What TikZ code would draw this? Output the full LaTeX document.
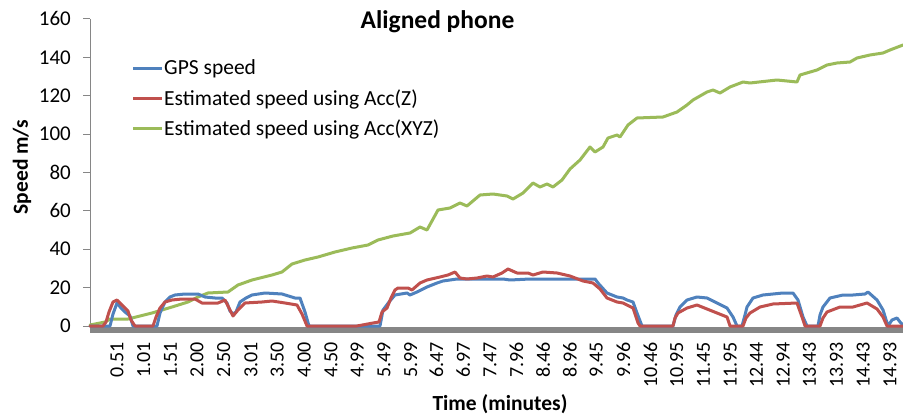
\documentclass[tikz,border=0pt]{standalone}
\usepackage{fontspec}
\setmainfont{Carlito}
\definecolor{gpsblue}{HTML}{4F81BD}
\definecolor{accred}{HTML}{C0504D}
\definecolor{accgreen}{HTML}{9BBB59}
\definecolor{axisgray}{HTML}{868686}
\tikzset{
  curve/.style={line width=3pt, line join=round, line cap=round},
  ytick/.style={anchor=east, inner sep=0pt, font=\fontsize{21}{24}\selectfont},
  xtick/.style={rotate=90, anchor=east, inner sep=0pt, font=\fontsize{20}{24}\selectfont},
  legtext/.style={anchor=west, inner sep=0pt, font=\fontsize{21.5}{25}\selectfont},
  axtitle/.style={inner sep=0pt, font=\fontsize{21.5}{25}\selectfont\bfseries},
}
\begin{document}
\begin{tikzpicture}[x=1pt,y=-1pt]
\useasboundingbox (0,0) rectangle (903,417);
\fill[white] (0,0) rectangle (903,417);
% axis
\fill[axisgray] (90,326.5) rectangle (903,332.5);
\draw[axisgray, line width=1pt] (90,19) -- (90,332.5);
\foreach \v [count=\i] in {0,20,40,60,80,100,120,140,160} {
  \draw[axisgray, line width=1pt] (83,{326-1.919*\v}) -- (90,{326-1.919*\v});
  \node[ytick] (yt\i) at (71,{326-1.919*\v}) {\v};
}
\foreach \t [count=\i] in {0.51,1.01,1.51,2.00,2.50,3.01,3.50,4.00,4.50,4.99,5.49,5.99,6.47,6.97,7.47,7.96,8.46,8.96,9.45,9.96,10.46,10.95,11.45,11.95,12.44,12.94,13.43,13.93,14.43,14.93} {
  \node[xtick] (xt\i) at ({89.7+53.6*\t},342) {\t};
}
% green
\draw[curve, accgreen] (90,325) -- (105,322) -- (110,319) -- (128,319) -- (140,316) -- (152,313) -- (172,307) -- (188,302) -- (198,297) -- (208,293) -- (228,292) -- (238,285) -- (252,280) -- (272,275) -- (282,272) -- (292,264) -- (305,260) -- (318,257) -- (335,252) -- (352,248) -- (368,245) -- (378,240) -- (393,236) -- (410,233) -- (420,227) -- (427,230) -- (438,210) -- (450,208) -- (460,203) -- (467,206) -- (480,195) -- (493,194) -- (507,196) -- (513,199) -- (523,193) -- (533,183) -- (540,187) -- (547,184) -- (553,187) -- (562,180) -- (570,169) -- (580,160) -- (590,147) -- (595,152) -- (603,147) -- (608,138) -- (617,135) -- (620,137) -- (628,125) -- (637,118) -- (663,117) -- (677,112) -- (687,105) -- (693,100) -- (707,92) -- (713,90) -- (720,93) -- (730,87) -- (743,82) -- (750,83) -- (777,80) -- (797,82) -- (800,75) -- (817,70) -- (827,65) -- (837,63) -- (850,62) -- (857,58) -- (870,55) -- (883,53) -- (890,50) -- (903,45);
% blue
\draw[curve, gpsblue] (90,326) -- (110,326) -- (113,314) -- (117,303) -- (121,308) -- (125,312) -- (130,316) -- (133,326) -- (157,326) -- (160,313) -- (165,302) -- (170,297) -- (175,295) -- (185,294) -- (198,294) -- (205,297) -- (215,298) -- (222,298) -- (227,303) -- (230,311) -- (233,314) -- (236,312) -- (240,302) -- (246,298) -- (252,295) -- (265,293) -- (282,294) -- (295,298) -- (300,298) -- (305,312) -- (309,326) -- (380,326) -- (383,310) -- (389,302) -- (395,295) -- (407,293) -- (410,295) -- (417,292) -- (427,287) -- (437,283) -- (443,281) -- (457,279) -- (480,279) -- (503,279) -- (510,280) -- (530,279) -- (563,279) -- (595,279) -- (598,283) -- (607,293) -- (617,297) -- (623,298) -- (627,300) -- (633,302) -- (637,313) -- (642,326) -- (673,326) -- (676,315) -- (680,307) -- (687,300) -- (697,297) -- (707,298) -- (717,303) -- (727,308) -- (733,317) -- (737,326) -- (742,326) -- (745,315) -- (747,307) -- (753,298) -- (763,295) -- (773,294) -- (783,293) -- (793,293) -- (798,300) -- (803,317) -- (807,326) -- (818,326) -- (820,315) -- (823,307) -- (830,298) -- (843,295) -- (853,295) -- (865,294) -- (868,292) -- (877,300) -- (883,310) -- (888,326) -- (892,320) -- (897,318) -- (900,322) -- (903,325);
% red
\draw[curve, accred] (90,326) -- (103,326) -- (106,322) -- (109,312) -- (113,302) -- (117,300) -- (123,306) -- (128,311) -- (131,320) -- (135,326) -- (153,326) -- (156,317) -- (160,308) -- (165,302) -- (172,300) -- (182,299) -- (195,299) -- (202,303) -- (218,303) -- (225,300) -- (229,308) -- (233,316) -- (238,310) -- (245,303) -- (262,302) -- (272,301) -- (285,303) -- (297,305) -- (302,314) -- (307,326) -- (357,326) -- (373,323) -- (379,322) -- (382,312) -- (387,308) -- (391,298) -- (395,290) -- (398,288) -- (408,288) -- (412,290) -- (420,283) -- (427,280) -- (440,277) -- (448,275) -- (455,272) -- (460,278) -- (467,279) -- (477,278) -- (487,276) -- (493,277) -- (502,273) -- (508,269) -- (517,273) -- (528,273) -- (533,275) -- (543,272) -- (557,273) -- (570,276) -- (583,281) -- (593,283) -- (600,289) -- (607,298) -- (617,302) -- (623,303) -- (627,305) -- (633,308) -- (638,323) -- (640,326) -- (673,326) -- (675,318) -- (678,313) -- (687,308) -- (697,305) -- (707,309) -- (717,313) -- (727,317) -- (730,326) -- (743,326) -- (746,318) -- (750,313) -- (760,307) -- (773,304) -- (797,303) -- (802,317) -- (805,326) -- (820,326) -- (823,318) -- (827,312) -- (840,307) -- (853,307) -- (867,303) -- (877,309) -- (883,317) -- (887,326) -- (903,326);
% legend
\coordinate (lg1a) at (133,69); \coordinate (lg1b) at (162,69);
\coordinate (lg2a) at (133,99); \coordinate (lg2b) at (162,99);
\coordinate (lg3a) at (133,129); \coordinate (lg3b) at (162,129);
\draw[gpsblue, line width=3pt] (lg1a) -- (lg1b);
\draw[accred, line width=3pt] (lg2a) -- (lg2b);
\draw[accgreen, line width=3pt] (lg3a) -- (lg3b);
\node[legtext] (leg1) at (164,69) {GPS speed};
\node[legtext] (leg2) at (164,99) {Estimated speed using Acc(Z)};
\node[legtext] (leg3) at (164,129) {Estimated speed using Acc(XYZ)};
% titles
\node[inner sep=0pt, font=\fontsize{25.5}{30}\selectfont\bfseries] (title) at (437.5,22) {Aligned phone};
\node[axtitle] (xtitle) at (500,404) {Time (minutes)};
\node[axtitle, rotate=90] (ytitle) at (22,167) {Speed m/s};
\end{tikzpicture}
\end{document}
